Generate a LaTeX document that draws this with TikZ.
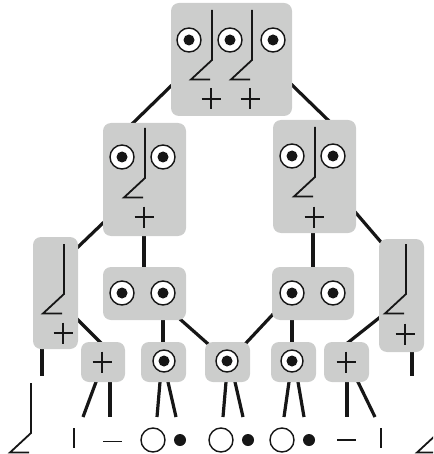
\documentclass[tikz,border=0pt]{standalone}
\usetikzlibrary{calc,backgrounds}
\definecolor{boxgray}{RGB}{204,205,204}
\definecolor{ink}{RGB}{22,22,22}
\begin{document}
\begin{tikzpicture}[x=1pt,y=-1pt,
  box/.style={fill=boxgray, rounded corners=8pt, inner sep=0pt, draw=none},
  boxwh/.style 2 args={box, minimum width=#1pt, minimum height=#2pt},
  edge/.style={draw=ink, line width=3.2pt},
  inedge/.style={edge, shorten <=-4pt, shorten >=-4pt},
  stub/.style={edge, shorten <=-4pt},
  stroke/.style={draw=ink, line width=1.8pt},
  eye/.pic={\draw[ink, line width=1.4pt, fill=white] (0,0) circle[radius=12pt];
            \fill[ink] (0,0) circle[radius=5.5pt];},
  smalleye/.pic={\draw[ink, line width=1.4pt, fill=white] (0,0) circle[radius=11pt];
                 \fill[ink] (0,0) circle[radius=5.5pt];},
  nose/.pic={\draw[stroke, line join=miter] (0,0) -- (0,50) -- (-21,69.5) -- (-2,69.5);},
  plus/.pic={\draw[ink, line width=1.7pt] (-9.5,0) -- (9.5,0) (0,-10.5) -- (0,10.5);}
]
\useasboundingbox (0,0) rectangle (433,454);
\clip (0,0) rectangle (433,454);

% boxes
\node[boxwh={121}{113}] (top) at (231.5,59.5) {};
\node[boxwh={83}{113}] (ml) at (144.5,179.5) {};
\node[boxwh={83}{113}] (mr) at (314.5,176.5) {};
\node[boxwh={45}{112}] (lt) at (55.5,293) {};
\node[boxwh={45}{113}] (rt) at (401.5,295.5) {};
\node[boxwh={83}{53}] (el) at (144.5,293.5) {};
\node[boxwh={82}{53}] (er) at (313,293.5) {};
\node[boxwh={44}{40}] (pl) at (103,362) {};
\node[boxwh={45}{40}] (ea) at (163.5,362) {};
\node[boxwh={45}{40}] (eb) at (227.5,362) {};
\node[boxwh={45}{40}] (ec) at (293.5,362) {};
\node[boxwh={45}{40}] (pr) at (346.5,362) {};

% free ends
\coordinate (ltend) at (42,376);
\coordinate (rtend) at (412,376);
\coordinate (pl1) at (83,417);   \coordinate (pl2) at (110,417);
\coordinate (ea1) at (157,417);  \coordinate (ea2) at (176,417);
\coordinate (eb1) at (223,417);  \coordinate (eb2) at (243,417);
\coordinate (ec1) at (284,417);  \coordinate (ec2) at (304,417);
\coordinate (pr1) at (347,417);  \coordinate (pr2) at (375,417);

% connectors, behind the boxes
\begin{scope}[on background layer]
  \draw[inedge] ($(top.center)+(-60.5,26.5)$) -- ($(ml.center)+(-11.5,-56.5)$);
  \draw[inedge] ($(top.center)+(60.5,25.5)$) -- ($(mr.center)+(13.5,-56.5)$);
  \draw[inedge] ($(ml.center)+(-41.5,43.5)$) -- ($(lt.center)+(22.5,-46)$);
  \draw[inedge] ($(ml.center)+(-0.5,56.5)$) -- ($(el.center)+(-0.5,-26.5)$);
  \draw[inedge] ($(mr.center)+(41.5,36.5)$) -- ($(rt.center)+(-21.5,-54.5)$);
  \draw[inedge] ($(mr.center)+(-1.5,56.5)$) -- ($(er.center)+(0,-26.5)$);
  \draw[inedge] ($(lt.center)+(22.5,27)$) -- ($(pl.center)+(-3,-20)$);
  \draw[stub]   ($(lt.center)+(-13.5,56)$) -- (ltend);
  \draw[inedge] ($(el.center)+(18.5,26.5)$) -- ($(ea.center)+(-0.5,-20)$);
  \draw[inedge] ($(el.center)+(36.5,26.5)$) -- ($(eb.center)+(-20.5,-19)$);
  \draw[inedge] ($(er.center)+(-37,17.5)$) -- ($(eb.center)+(19.5,-20)$);
  \draw[inedge] ($(er.center)+(-21,26.5)$) -- ($(ec.center)+(-1.5,-20)$);
  \draw[inedge] ($(rt.center)+(-22.5,22.5)$) -- ($(pr.center)+(3.5,-21)$);
  \draw[stub]   ($(rt.center)+(10.5,56.5)$) -- (rtend);
  \draw[stub] ($(pl.center)+(-7,20)$) -- (pl1);
  \draw[stub] ($(pl.center)+(7,20)$) -- (pl2);
  \draw[stub] ($(ea.center)+(-3.5,20)$) -- (ea1);
  \draw[stub] ($(ea.center)+(4.5,20)$) -- (ea2);
  \draw[stub] ($(eb.center)+(-1.5,20)$) -- (eb1);
  \draw[stub] ($(eb.center)+(7.5,20)$) -- (eb2);
  \draw[stub] ($(ec.center)+(-4.5,20)$) -- (ec1);
  \draw[stub] ($(ec.center)+(4.5,20)$) -- (ec2);
  \draw[stub] ($(pr.center)+(0.5,20)$) -- (pr1);
  \draw[stub] ($(pr.center)+(11.5,20)$) -- (pr2);
\end{scope}

% top face
\pic at (189,40) {eye};
\pic at (230,40) {eye};
\pic at (273,40) {eye};
\pic at (212,10) {nose};
\pic at (252,10) {nose};
\pic at (211,99) {plus};
\pic at (250,99) {plus};

% middle faces
\pic at (122,157) {eye};
\pic at (163,157) {eye};
\pic at (145,128) {nose};
\pic at (144,217) {plus};

\pic at (292,156) {eye};
\pic at (333,156) {eye};
\pic at (315,127) {nose};
\pic at (314,217) {plus};

% side boxes
\pic at (64,244) {nose};
\pic at (63,333) {plus};
\pic at (406,244) {nose};
\pic at (405,334) {plus};

% eye pairs
\pic at (122,293) {eye};
\pic at (163,293) {eye};
\pic at (292,293) {eye};
\pic at (333,293) {eye};

% small boxes
\pic at (102,362) {plus};
\pic at (164,361) {smalleye};
\pic at (227,361) {smalleye};
\pic at (292,361) {smalleye};
\pic at (346,362) {plus};

% leaves
\pic at (31,383) {nose};
\pic at (438,383) {nose};
\draw[stroke] (74,428) -- (74,448);
\draw[stroke] (103,441.5) -- (122,441.5);
\draw[ink, line width=1.4pt, fill=white] (153,440) circle[radius=12pt];
\fill[ink] (180,440) circle[radius=6pt];
\draw[ink, line width=1.4pt, fill=white] (221,440) circle[radius=12pt];
\fill[ink] (248,440) circle[radius=6pt];
\draw[ink, line width=1.4pt, fill=white] (282,440) circle[radius=12pt];
\fill[ink] (309,440) circle[radius=6pt];
\draw[stroke] (337,440) -- (356,440);
\draw[stroke] (381,428) -- (381,448);
\end{tikzpicture}
\end{document}
